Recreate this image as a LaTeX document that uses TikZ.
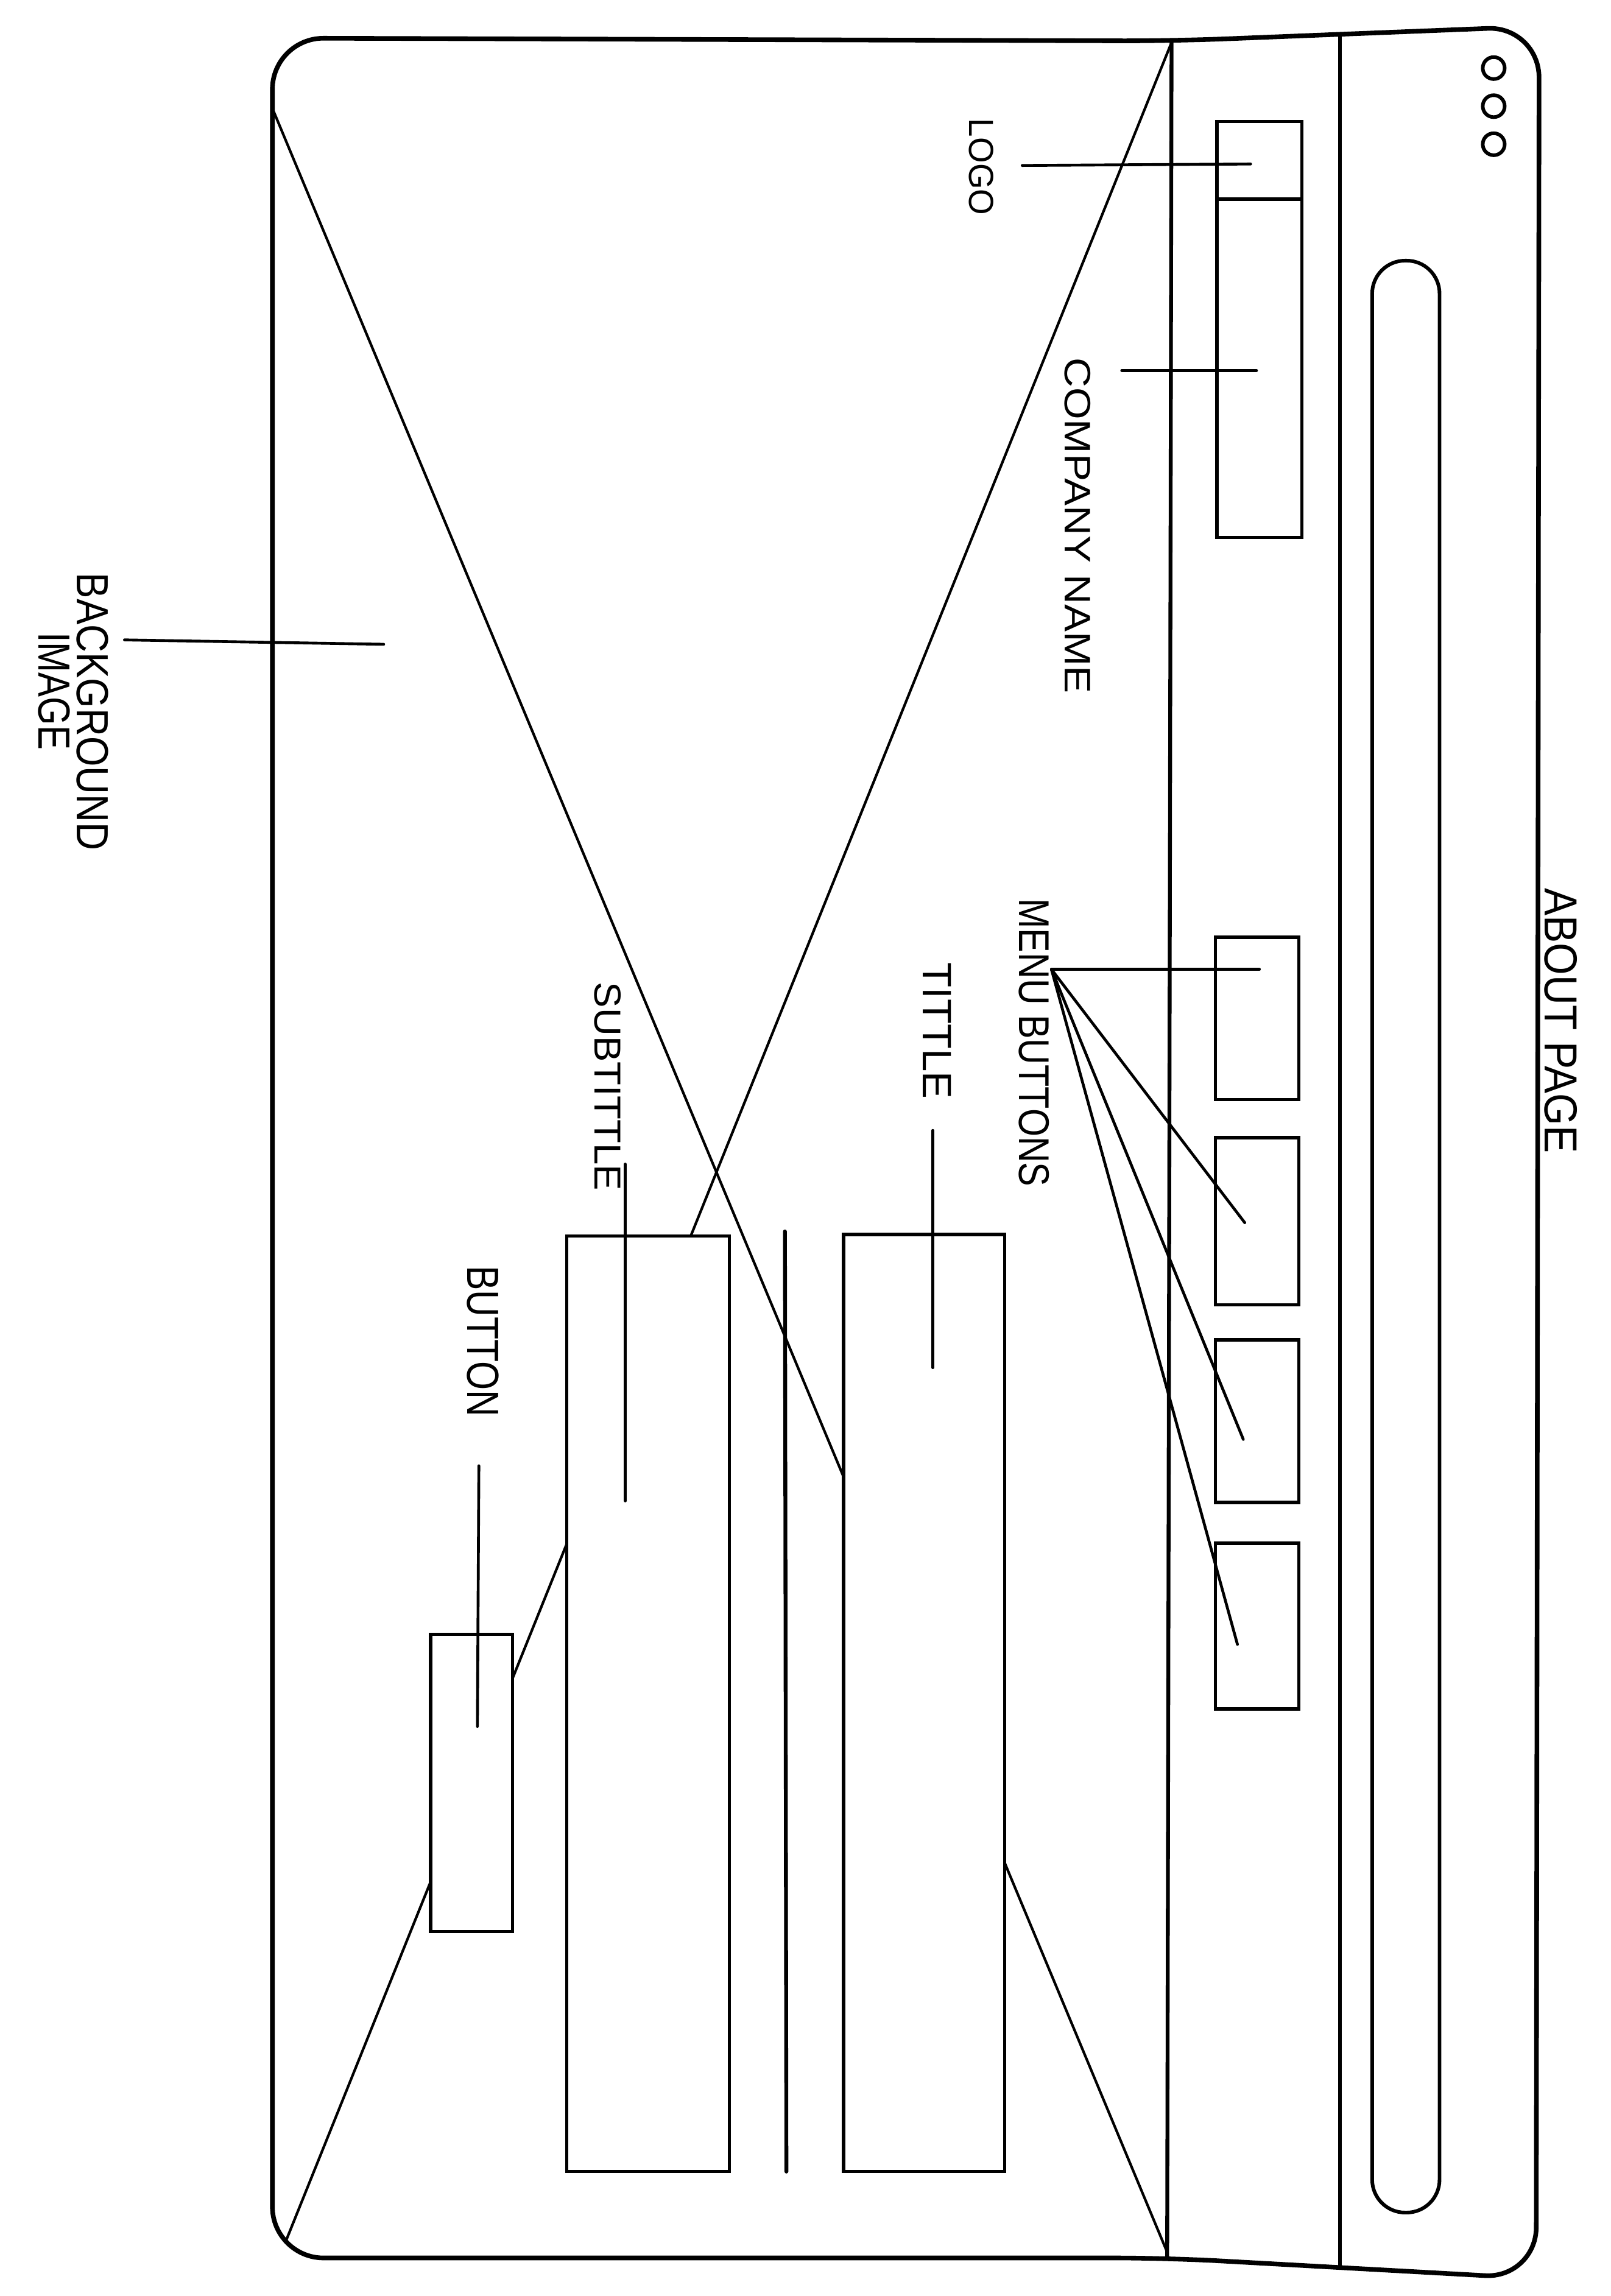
\documentclass[tikz,border=0pt]{standalone}
\usepackage{fontspec}
\setmainfont{Liberation Sans}
\usetikzlibrary{fit}
\newcommand\lblfont[1]{\fontsize{#1}{#1}\selectfont}
\begin{document}
\begin{tikzpicture}[x=0.2mm,y=-0.2mm,
  frame/.style={line width=1.8pt, line join=round, rounded corners=7mm},
  bar/.style={line width=1.5pt, line cap=round},
  box/.style={draw, line width=1.3pt, fill=white, inner sep=0pt},
  wire/.style={line width=1pt, line cap=round},
  leader/.style={line width=1.1pt, line cap=round},
  dot/.style={circle, draw, line width=1.4pt, minimum size=3mm, inner sep=0pt},
  lbl/.style={rotate=-90, inner sep=0pt},
]
\useasboundingbox (0,0) rectangle (1100,1568);
\fill[white] (0,0) rectangle (1100,1568);

% browser window outline
\draw[frame] (186,800) -- (186,26) -- (800,28) -- (1051,18) -- (1049,1556) -- (797,1542) -- (186,1542) -- cycle;

% header and toolbar separators
\coordinate (hdtop) at (800,28);
\coordinate (hdbot) at (797,1542);
\coordinate (tbtop) at (915,23.5);
\coordinate (tbbot) at (915,1548.5);
\draw[bar] (hdtop) -- (hdbot);
\draw[bar] (tbtop) -- (tbbot);

% address bar and window dots
\node[draw, line width=1.4pt, rounded corners=4.5mm, minimum width=9.2mm, minimum height=266.6mm, inner sep=0pt] (addr) at (960,844.5) {};
\node[dot] (dotA) at (1020,46.5) {};
\node[dot] (dotB) at (1020,72.5) {};
\node[dot] (dotC) at (1020,98.5) {};

% background image placeholder cross
\coordinate (xtl) at (186,74);
\coordinate (xbr) at (797,1538);
\coordinate (xtr) at (800,29);
\coordinate (xbl) at (195,1531);
\draw[wire] (xtl) -- (xbr);
\draw[wire] (xtr) -- (xbl);

% header blocks
\node[box, fit={(831,83) (889,136)}] (logo) {};
\node[box, fit={(831,136) (889,367)}] (company) {};
\node[box, fit={(830,640) (887,751)}] (menuA) {};
\node[box, fit={(830,777) (887,891)}] (menuB) {};
\node[box, fit={(830,915) (887,1026)}] (menuC) {};
\node[box, fit={(830,1054) (887,1167)}] (menuD) {};

% hero content blocks
\node[box, fit={(576,843) (686,1483)}] (title) {};
\node[box, fit={(387,844) (498,1483)}] (subtitle) {};
\node[box, fit={(294,1116) (350,1319)}] (button) {};
\coordinate (sepA) at (536,841);
\coordinate (sepB) at (537,1483);
\draw[bar] (sepA) -- (sepB);

% labels
\node[lbl, xscale=0.89] (about) at (1066,697) {\lblfont{18}ABOUT PAGE};
\node[lbl, xscale=0.96] (logoT) at (670,114) {\lblfont{13.5}LOGO};
\node[lbl, xscale=1.12] (companyT) at (736,359) {\lblfont{14.3}COMPANY NAME};
\node[lbl, xscale=0.84] (menuT) at (706,712) {\lblfont{16.7}MENU BUTTONS};
\node[lbl, xscale=1.0] (titleT) at (640,704) {\lblfont{15.9}TITTLE};
\node[lbl, xscale=1.03] (subtitleT) at (415,742) {\lblfont{14.6}SUBTITTLE};
\node[lbl, xscale=0.82] (buttonT) at (330,916) {\lblfont{17.5}BUTTON};
\node[lbl, xscale=0.86] (bgT) at (63,486) {\lblfont{17.5}BACKGROUND};
\node[lbl, xscale=0.81] (imgT) at (37,472) {\lblfont{17.5}IMAGE};

% leader lines
\coordinate (logoS) at (698,113);
\coordinate (logoE) at (854,112);
\draw[leader] (logoS) -- (logoE);
\coordinate (compS) at (766,253);
\coordinate (compE) at (858,253);
\draw[leader] (compS) -- (compE);
\coordinate (hub) at (718,662);
\coordinate (mA) at (860,662);
\coordinate (mB) at (850,835);
\coordinate (mC) at (849,983);
\coordinate (mD) at (845,1123);
\draw[leader] (hub) -- (mA);
\draw[leader] (hub) -- (mB);
\draw[leader] (hub) -- (mC);
\draw[leader] (hub) -- (mD);
\coordinate (titS) at (637,772);
\coordinate (titE) at (637,934);
\draw[leader] (titS) -- (titE);
\coordinate (subS) at (427,795);
\coordinate (subE) at (427,1025);
\draw[leader] (subS) -- (subE);
\coordinate (btnS) at (327,1001);
\coordinate (btnE) at (326,1179);
\draw[leader] (btnS) -- (btnE);
\coordinate (bgS) at (85,437);
\coordinate (bgE) at (262,440);
\draw[leader] (bgS) -- (bgE);
\end{tikzpicture}
\end{document}
